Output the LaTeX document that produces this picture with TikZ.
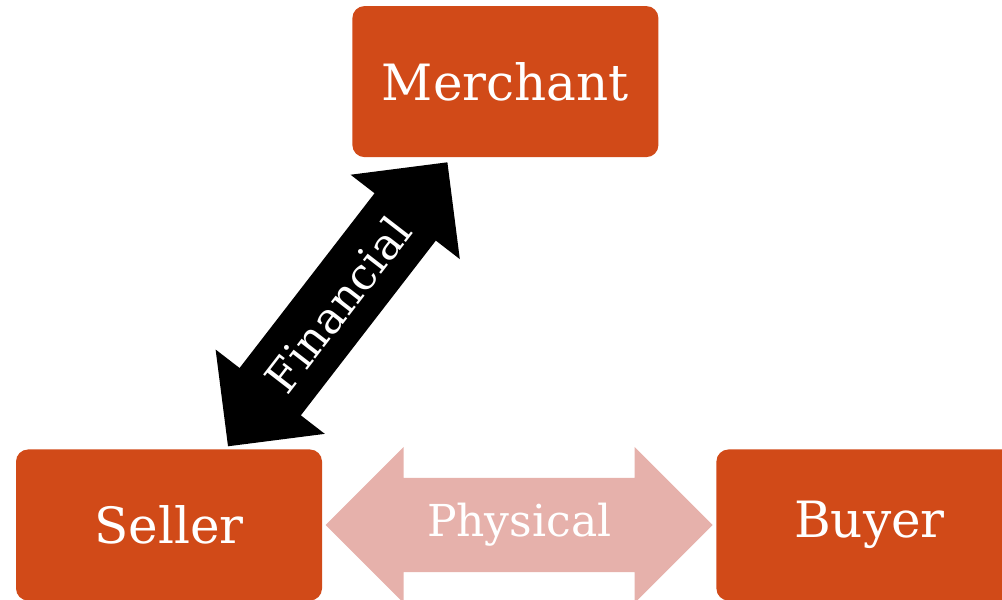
\documentclass[tikz,border=0pt]{standalone}
\usepackage{fontspec}
\setmainfont{DejaVu Serif}
\usetikzlibrary{shapes.arrows, positioning, calc}
\definecolor{rustorange}{HTML}{D14A18}
\definecolor{softpink}{HTML}{E6B1AB}

\begin{document}
\begin{tikzpicture}[%
  x=1pt, y=1pt,%
  party/.style={rectangle, fill=rustorange, text=white, minimum width=306pt, minimum height=151pt, rounded corners=12pt, inner sep=0pt, font=\fontsize{50}{60}\selectfont},%
  physflow/.style={double arrow, fill=softpink, text=white, double arrow head extend=30pt, minimum width=156pt, inner xsep=0pt, inner ysep=24pt, font=\fontsize{44}{52}\selectfont},%
  finflow/.style={double arrow, fill=black, text=white, double arrow head extend=26pt, minimum width=138pt, inner xsep=0pt, inner ysep=16pt, font=\fontsize{44}{52}\selectfont}%
]
  \useasboundingbox (0,0) rectangle (1002,600);
  \node[party] (seller) at (169,75) {Seller};
  \node[party, right=394pt of seller] (buyer) {Buyer};
  \node[party, above right=292pt and 30pt of seller] (merchant) {Merchant};
  % physical exchange
  \node[physflow, minimum height=387pt] (physical) at ($(seller.east)!0.5!(buyer.west)$) {Physical};
  % financial exchange
  \coordinate (finlo) at ([xshift=59pt,yshift=3pt]seller.north);
  \coordinate (finhi) at ([xshift=-58pt,yshift=-5pt]merchant.south);
  \path let \p1=($(finhi)-(finlo)$), \n1={atan2(\y1,\x1)}, \n2={veclen(\x1,\y1)} in
    node[finflow, rotate=\n1, minimum height=\n2] (financial) at ($(finlo)!0.5!(finhi)$) {Financial};
\end{tikzpicture}
\end{document}
